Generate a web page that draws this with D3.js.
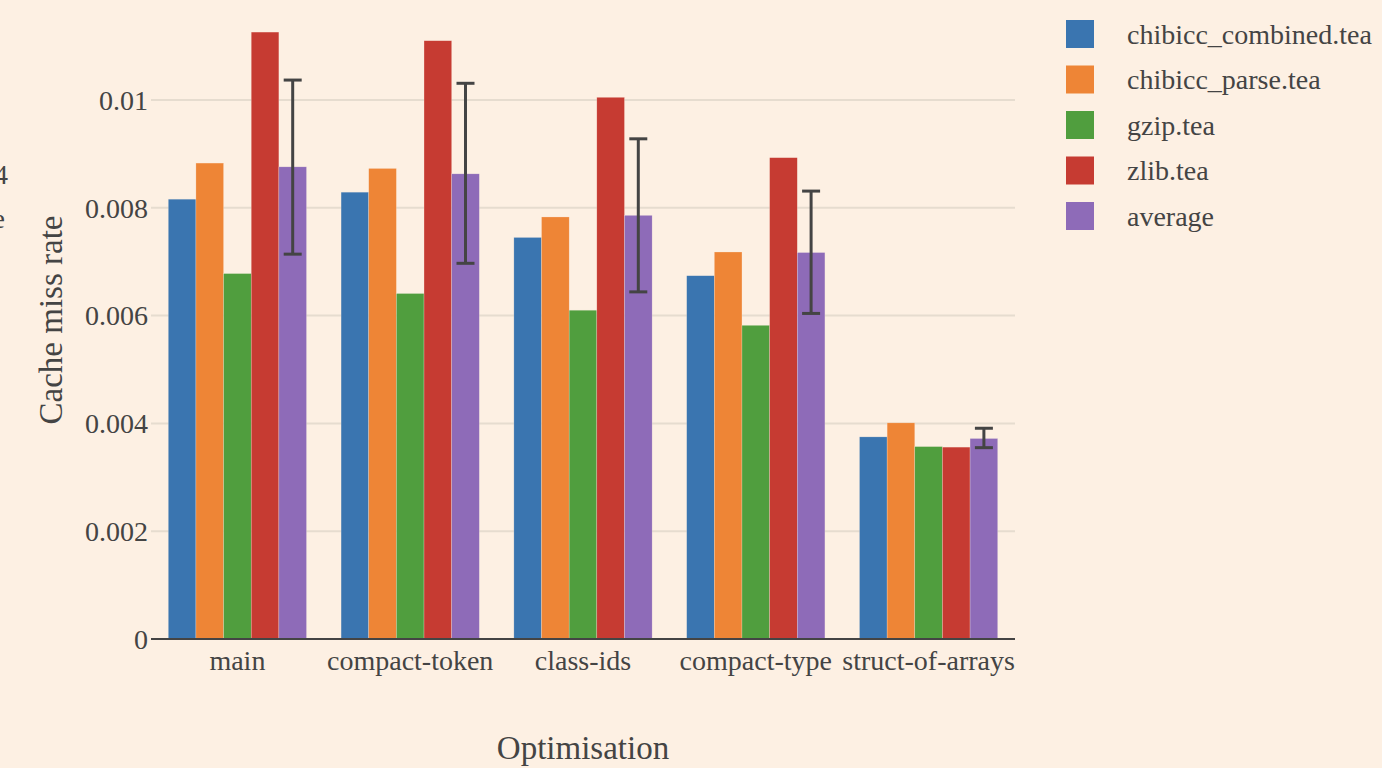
<!DOCTYPE html>
<html>
<head>
<meta charset="utf-8">
<script src="https://cdn.jsdelivr.net/npm/d3@7"></script>
<style>
  html, body { margin: 0; padding: 0; background: #fdf0e3; overflow: hidden; }
  svg { display: block; }
  text { font-family: "Liberation Serif", "DejaVu Serif", serif; fill: #444; }
</style>
</head>
<body>
<svg id="chart" width="1382" height="768"></svg>
<script>
const categories = ["main", "compact-token", "class-ids", "compact-type", "struct-of-arrays"];
const seriesNames = ["chibicc_combined.tea", "chibicc_parse.tea", "gzip.tea", "zlib.tea", "average"];
const colors = ["#3a75b0", "#ee8536", "#509e3e", "#c63b32", "#8e6bb8"];
const chibiccCombined = [0.00816, 0.00829, 0.00745, 0.00674, 0.00375];
const chibiccParse    = [0.00883, 0.00873, 0.00783, 0.00718, 0.00401];
const gzip            = [0.00678, 0.00641, 0.00610, 0.00582, 0.00357];
const zlib            = [0.01126, 0.01110, 0.01005, 0.00893, 0.00356];
const average         = [0.00876, 0.00863, 0.00786, 0.00717, 0.00372];
const errUpper        = [0.01037, 0.01031, 0.00928, 0.00831, 0.00391];
const errLower        = [0.00714, 0.00697, 0.00644, 0.00604, 0.00355];
const yTicks = [0, 0.002, 0.004, 0.006, 0.008, 0.01];
const yTickLabels = ["0", "0.002", "0.004", "0.006", "0.008", "0.01"];

const seriesValues = [chibiccCombined, chibiccParse, gzip, zlib, average];

const svg = d3.select("#chart");
const plot = { left: 151, right: 1015, top: 0, bottom: 639 };

const x0 = d3.scaleBand().domain(categories).range([plot.left, plot.right]).paddingInner(0.2).paddingOuter(0.1);
const x1 = d3.scaleBand().domain(seriesNames).range([0, x0.bandwidth()]).padding(0);
const y = d3.scaleLinear().domain([0, 0.0100]).range([plot.bottom, 100]);

// gridlines
svg.append("g").selectAll("line").data(yTicks.filter(t => t !== 0)).join("line")
  .attr("x1", plot.left).attr("x2", plot.right)
  .attr("y1", d => y(d)).attr("y2", d => y(d))
  .attr("stroke", "#e6dccf").attr("stroke-width", 2);

// y tick labels
svg.append("g").selectAll("text").data(yTicks).join("text")
  .attr("x", 148).attr("y", d => y(d))
  .attr("dy", "0.35em")
  .attr("text-anchor", "end")
  .attr("font-size", 28)
  .text((d, i) => yTickLabels[i]);

// bars
const groups = svg.append("g").selectAll("g").data(categories).join("g")
  .attr("transform", d => `translate(${x0(d)},0)`);
groups.selectAll("rect")
  .data((c, ci) => seriesNames.map((s, si) => ({ s, si, v: seriesValues[si][ci] })))
  .join("rect")
  .attr("x", d => x1(d.s))
  .attr("width", x1.bandwidth())
  .attr("y", d => y(d.v))
  .attr("height", d => y(0) - y(d.v))
  .attr("fill", d => colors[d.si])
  .attr("stroke", "#fdf0e3").attr("stroke-width", 0.5).attr("stroke-opacity", 0.5);

// error bars on average
const eb = svg.append("g");
categories.forEach((c, i) => {
  const cx = x0(c) + x1("average") + x1.bandwidth() / 2;
  eb.append("line").attr("x1", cx).attr("x2", cx)
    .attr("y1", y(errUpper[i])).attr("y2", y(errLower[i]))
    .attr("stroke", "#444").attr("stroke-width", 3);
  [errUpper[i], errLower[i]].forEach(v => {
    eb.append("line").attr("x1", cx - 9).attr("x2", cx + 9)
      .attr("y1", y(v)).attr("y2", y(v))
      .attr("stroke", "#444").attr("stroke-width", 3);
  });
});

// zero line
svg.append("line").attr("x1", plot.left).attr("x2", plot.right)
  .attr("y1", y(0)).attr("y2", y(0))
  .attr("stroke", "#444").attr("stroke-width", 2);

// x category labels
svg.append("g").selectAll("text").data(categories).join("text")
  .attr("x", d => x0(d) + x0.bandwidth() / 2)
  .attr("y", 670)
  .attr("text-anchor", "middle")
  .attr("font-size", 28)
  .text(d => d);

// axis titles
svg.append("text").attr("x", 583).attr("y", 759)
  .attr("text-anchor", "middle").attr("font-size", 33).text("Optimisation");
svg.append("text")
  .attr("transform", "translate(62,320) rotate(-90)")
  .attr("text-anchor", "middle").attr("font-size", 33).text("Cache miss rate");

// cut-off fragments at left edge (also cut in the reference)
svg.append("text").attr("x", 8).attr("y", 184).attr("text-anchor", "end").attr("font-size", 28).text("4");
svg.append("text").attr("x", 5).attr("y", 228).attr("text-anchor", "end").attr("font-size", 28).text("e");

// legend
const legend = svg.append("g");
seriesNames.forEach((s, i) => {
  const cy = 34 + i * 45.5;
  legend.append("rect").attr("x", 1066).attr("y", cy - 14).attr("width", 28).attr("height", 28)
    .attr("fill", colors[i]);
  legend.append("text").attr("x", 1127).attr("y", cy).attr("dy", "0.35em")
    .attr("font-size", 28).text(s);
});
</script>
</body>
</html>
